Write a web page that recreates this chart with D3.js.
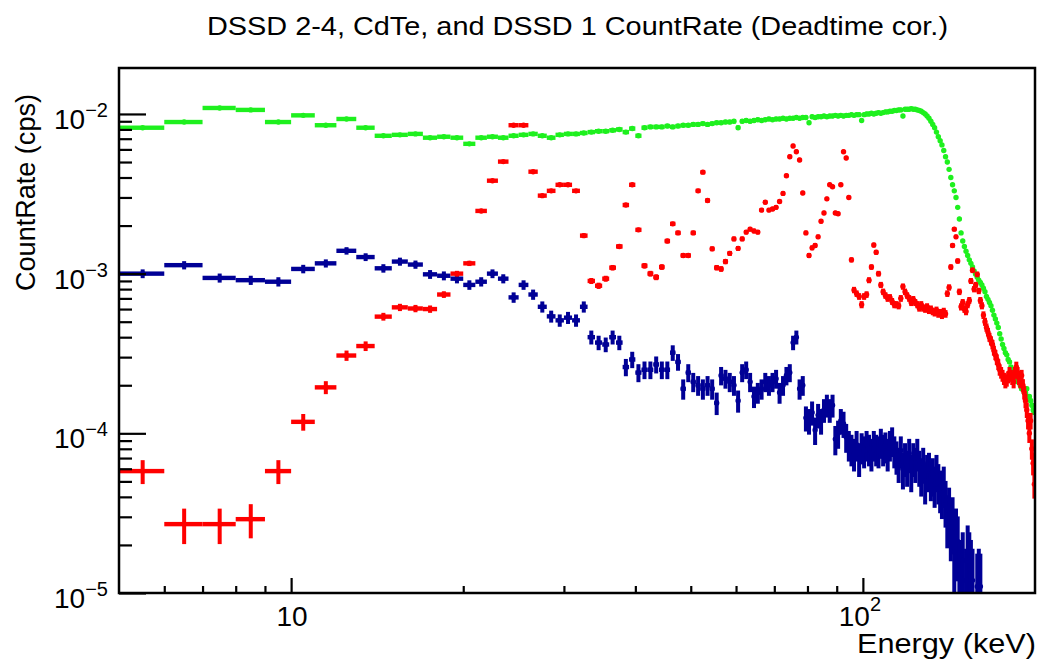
<!DOCTYPE html>
<html>
<head>
<meta charset="utf-8">
<script src="https://cdn.jsdelivr.net/npm/d3@7"></script>
<style>
  html, body { margin: 0; padding: 0; background: #ffffff; }
  svg { display: block; font-family: "Liberation Sans", Arial, Helvetica, sans-serif; }
</style>
</head>
<body>
<svg id="chart" width="1042" height="664"></svg>
<script>
// ---------------- DATA ----------------
// 1 keV bins, low edges 5 .. 199 keV
const binLowEdges = d3.range(5, 200);

// DSSD 2-4 (green)
const greenRate = [
  0.0082,0.0089,0.0109,0.0106,0.0089,0.0098,0.0085,0.0093,0.0082,0.0073,
  0.0074,0.0075,0.0071,0.0072,0.0071,0.0065,0.0071,0.0072,0.0071,0.0073,
  0.0074,0.0075,0.0073,0.0071,0.0074,0.0075,0.0075,0.0076,0.0077,0.0078,
  0.0078,0.0079,0.0080,0.0077,0.0081,0.0073,0.0082,0.0083,0.0083,0.0083,
  0.0084,0.0083,0.0084,0.0085,0.0085,0.0086,0.0086,0.0087,0.0086,0.0087,
  0.0088,0.0088,0.0089,0.0089,0.0090,0.0082,0.0090,0.0091,0.0090,0.0091,
  0.0092,0.0091,0.0092,0.0093,0.0092,0.0093,0.0093,0.0094,0.0093,0.0094,
  0.0094,0.0095,0.0094,0.0095,0.0095,0.0088,0.0096,0.0095,0.0096,0.0096,
  0.0097,0.0096,0.0097,0.0097,0.0098,0.0097,0.0098,0.0097,0.0098,0.0098,
  0.0099,0.0098,0.0099,0.0099,0.0091,0.0099,0.0100,0.0100,0.0101,0.0100,
  0.0101,0.0102,0.0101,0.0102,0.0103,0.0103,0.0104,0.0104,0.0105,0.0105,
  0.0106,0.0106,0.0097,0.0107,0.0107,0.0107,0.0108,0.0107,0.0107,0.0106,
  0.0105,0.0104,0.0102,0.0100,0.0097,0.0094,0.0090,0.0086,0.0082,0.0077,
  0.0072,0.0068,0.0064,0.0059,0.0054,0.0050,0.0045,0.0040,0.0036,0.0033,
  0.0030,0.0026,0.0022,0.0018,0.0016,0.00148,0.00138,0.0013,0.00122,0.00116,
  0.0011,0.00104,0.00099,0.00095,0.00091,0.00088,0.00085,0.00081,0.00077,0.00072,
  0.00069,0.00066,0.00063,0.00059,0.00055,0.00052,0.00049,0.00046,0.00042,0.00039,
  0.00036,0.00034,0.00032,0.00031,0.00029,0.00028,0.00026,0.00025,0.00024,0.00023,
  0.00022,0.00021,0.00021,0.00020,0.00019,0.00019,0.00018,0.00018,0.00019,0.00017,
  0.00017,0.00016,0.00015,0.00014,0.000135
];

// CdTe (red)
const redRate = [
  5.8e-5,2.7e-5,2.7e-5,2.9e-5,5.8e-5,1.18e-4,1.94e-4,3.07e-4,3.52e-4,5.38e-4,
  6.15e-4,6.05e-4,6.0e-4,7.4e-4,1.0e-3,1.16e-3,2.47e-3,3.82e-3,5.03e-3,8.5e-3,
  8.5e-3,4.35e-3,3.08e-3,3.3e-3,3.6e-3,3.6e-3,3.3e-3,1.73e-3,9.0e-4,8.4e-4,
  9.3e-4,1.09e-3,1.48e-3,2.69e-3,3.6e-3,1.88e-3,1.12e-3,1.0e-3,9.5e-4,1.1e-3,
  1.6e-3,2.05e-3,1.8e-3,1.3e-3,1.3e-3,1.8e-3,3.3e-3,4.32e-3,2.87e-3,1.43e-3,
  1.09e-3,1.07e-3,1.19e-3,1.34e-3,1.65e-3,1.44e-3,1.65e-3,1.82e-3,1.9e-3,1.85e-3,
  1.82e-3,2.5e-3,2.8e-3,2.5e-3,2.54e-3,2.6e-3,2.83e-3,3.18e-3,4.1e-3,5.4e-3,
  6.3e-3,5.8e-3,5.15e-3,3.2e-3,1.8e-3,1.3e-3,1.45e-3,1.5e-3,1.7e-3,2.13e-3,
  2.4e-3,2.94e-3,3.6e-3,3.5e-3,2.4e-3,2.37e-3,3.6e-3,5.8e-3,5.3e-3,3.0e-3,
  1.22e-3,7.9e-4,7.5e-4,7.2e-4,6.4e-4,7.2e-4,7.4e-4,9.1e-4,1.1e-3,1.51e-3,
  1.36e-3,1.0e-3,8.5e-4,7.7e-4,7.3e-4,7.0e-4,7.1e-4,6.7e-4,6.4e-4,6.4e-4,
  6.3e-4,7.0e-4,8.3e-4,7.7e-4,7.3e-4,7.0e-4,6.6e-4,6.9e-4,6.6e-4,6.4e-4,
  6.1e-4,6.4e-4,6.1e-4,6.0e-4,6.2e-4,5.9e-4,6.0e-4,5.8e-4,5.7e-4,5.9e-4,
  5.6e-4,5.7e-4,5.5e-4,5.8e-4,5.6e-4,7.5e-4,8.2e-4,1.1e-3,1.5e-3,1.9e-3,
  1.7e-3,1.2e-3,7.7e-4,6.2e-4,6.6e-4,6.0e-4,5.8e-4,6.4e-4,6.8e-4,9.0e-4,
  1.05e-3,8.0e-4,8.5e-4,9.9e-4,7.8e-4,6.8e-4,6.3e-4,5.5e-4,5.0e-4,4.6e-4,
  4.3e-4,4.0e-4,3.8e-4,3.6e-4,3.3e-4,3.1e-4,2.9e-4,2.7e-4,2.5e-4,2.4e-4,
  2.3e-4,2.2e-4,2.1e-4,2.15e-4,2.25e-4,2.4e-4,2.3e-4,2.2e-4,2.1e-4,2.4e-4,
  2.6e-4,2.4e-4,2.2e-4,2.1e-4,2.3e-4,2.0e-4,1.8e-4,1.6e-4,1.4e-4,1.2e-4,
  1.0e-4,1.2e-4,8.0e-5,6.5e-5,4.8e-5
];

// DSSD 1 (blue); null = empty bin
const blueRate = [
  1.0e-3,1.13e-3,9.4e-4,9.1e-4,8.9e-4,1.07e-3,1.16e-3,1.39e-3,1.27e-3,1.08e-3,
  1.19e-3,1.14e-3,9.9e-4,9.7e-4,9.3e-4,8.5e-4,8.9e-4,1.0e-3,9.3e-4,7.1e-4,
  8.5e-4,7.4e-4,6.2e-4,5.4e-4,5.1e-4,5.3e-4,5.1e-4,6.2e-4,4.0e-4,3.7e-4,
  3.6e-4,4.0e-4,3.7e-4,2.6e-4,2.9e-4,2.4e-4,2.5e-4,2.5e-4,2.7e-4,2.5e-4,
  2.5e-4,3.2e-4,2.8e-4,1.9e-4,2.4e-4,2.1e-4,2.0e-4,1.9e-4,2.0e-4,1.9e-4,
  1.55e-4,2.3e-4,2.2e-4,2.1e-4,2.0e-4,1.6e-4,2.4e-4,2.5e-4,2.1e-4,1.7e-4,
  1.8e-4,1.9e-4,2.1e-4,2.0e-4,2.1e-4,2.2e-4,1.8e-4,2.0e-4,2.3e-4,2.4e-4,
  3.7e-4,4.0e-4,1.9e-4,2.0e-4,1.25e-4,1.2e-4,1.35e-4,1.05e-4,1.3e-4,1.2e-4,
  1.4e-4,1.5e-4,1.4e-4,1.5e-4,9.2e-5,1.0e-4,1.2e-4,1.15e-4,9.5e-5,8.5e-5,
  8.0e-5,7.5e-5,8.5e-5,7.0e-5,8.2e-5,7.8e-5,8.5e-5,8.0e-5,7.5e-5,8.5e-5,
  8.0e-5,7.8e-5,8.8e-5,8.0e-5,8.3e-5,7.5e-5,8.5e-5,9.0e-5,7.8e-5,7.2e-5,
  6.5e-5,7.8e-5,6.0e-5,7.0e-5,6.2e-5,7.5e-5,5.8e-5,7.0e-5,6.5e-5,7.5e-5,
  6.2e-5,5.5e-5,6.5e-5,5.0e-5,5.8e-5,6.0e-5,5.2e-5,5.5e-5,4.8e-5,5.8e-5,
  5.0e-5,4.5e-5,4.2e-5,4.8e-5,3.8e-5,3.0e-5,3.4e-5,2.6e-5,2.9e-5,1.8e-5,
  2.4e-5,2.1e-5,1.4e-5,1.3e-5,1.6e-5,null,1.2e-5,1.8e-5,1.6e-5,1.4e-5,
  1.2e-5,null,null,1.1e-5,1.2e-5,1.1e-5,null,null,null,null,
  null,null,null,null,null,null,null,null,null,null,
  null,null,null,null,null,null,null,null,null,null,
  null,null,null,null,null,null,null,null,null,null,
  null,null,null,null,null
];

// error scale per series (rate uncertainty ~ k * sqrt(rate))
const errScale = { green: 0.0004, red: 0.0013, blue: 0.002 };

const xMajorTicks = [10, 100];
const xMinorTicks = [6, 7, 8, 9, 20, 30, 40, 50, 60, 70, 80, 90];
const xTickLabels = [{ v: 10, base: "10", exp: "" }, { v: 100, base: "10", exp: "2" }];
const yMajorTicks = [1e-5, 1e-4, 1e-3, 1e-2];
const yMinorTicks = [2e-5,3e-5,4e-5,5e-5,6e-5,7e-5,8e-5,9e-5,
                     2e-4,3e-4,4e-4,5e-4,6e-4,7e-4,8e-4,9e-4,
                     2e-3,3e-3,4e-3,5e-3,6e-3,7e-3,8e-3,9e-3];
const yTickLabels = [{ v: 1e-5, exp: "\u22125" }, { v: 1e-4, exp: "\u22124" },
                     { v: 1e-3, exp: "\u22123" }, { v: 1e-2, exp: "\u22122" }];

const titleText = "DSSD 2-4, CdTe, and DSSD 1 CountRate (Deadtime cor.)";
const xTitle = "Energy (keV)";
const yTitle = "CountRate (cps)";

// ---------------- LAYOUT ----------------
const L = 119, R = 1035, T = 68, B = 593;
const svg = d3.select("#chart");
svg.append("rect").attr("width", 1042).attr("height", 664).attr("fill", "#fff");

const x = d3.scaleLog().domain([5, 200]).range([L, R]);
const y = d3.scaleLog().domain([1e-5, 0.0194]).range([B, T]);

svg.append("defs").append("clipPath").attr("id", "clip")
  .append("rect").attr("x", L).attr("y", T).attr("width", R - L).attr("height", B - T);

function drawSeries(vals, color, k) {
  const data = vals.map((v, i) => ({ lo: binLowEdges[i], hi: binLowEdges[i] + 1, v }))
                   .filter(d => d.v != null);
  const g = svg.append("g").attr("clip-path", "url(#clip)").attr("fill", color);
  g.selectAll("rect.h").data(data).join("rect").attr("class", "h")
    .attr("x", d => x(d.lo)).attr("width", d => x(d.hi) - x(d.lo))
    .attr("y", d => y(d.v) - 2.2).attr("height", 4.4);
  g.selectAll("rect.v").data(data).join("rect").attr("class", "v")
    .attr("x", d => x(d.lo + 0.5) - 2).attr("width", 4)
    .attr("y", d => y(d.v + k * Math.sqrt(d.v)))
    .attr("height", d => {
      const lo = Math.max(d.v - k * Math.sqrt(d.v), 1e-6);
      return y(lo) - y(d.v + k * Math.sqrt(d.v));
    });
  g.selectAll("circle").data(data).join("circle")
    .attr("cx", d => x(d.lo + 0.5)).attr("cy", d => y(d.v)).attr("r", 2.7);
}

drawSeries(greenRate, "#1ef01e", errScale.green);
drawSeries(blueRate, "#000096", errScale.blue);
drawSeries(redRate, "#ff0000", errScale.red);

// ---------------- AXES ----------------
const axG = svg.append("g");
axG.append("g").attr("transform", `translate(0,${B})`)
  .call(d3.axisBottom(x).tickValues(xMinorTicks).tickSize(-7).tickFormat(""))
  .call(g => g.select(".domain").remove());
axG.append("g").attr("transform", `translate(0,${B})`)
  .call(d3.axisBottom(x).tickValues(xMajorTicks).tickSize(-15).tickFormat(""))
  .call(g => g.select(".domain").remove());
axG.append("g").attr("transform", `translate(${L},0)`)
  .call(d3.axisLeft(y).tickValues(yMinorTicks).tickSize(-13).tickFormat(""))
  .call(g => g.select(".domain").remove());
axG.append("g").attr("transform", `translate(${L},0)`)
  .call(d3.axisLeft(y).tickValues(yMajorTicks).tickSize(-27).tickFormat(""))
  .call(g => g.select(".domain").remove());
axG.selectAll(".tick line").attr("stroke", "#000").attr("stroke-width", 2.2);

svg.append("rect").attr("x", L).attr("y", T).attr("width", R - L).attr("height", B - T)
  .attr("fill", "none").attr("stroke", "#000").attr("stroke-width", 2.5);

// tick labels
yTickLabels.forEach(t => {
  const txt = svg.append("text").attr("x", 108).attr("y", y(t.v) + 15)
    .attr("text-anchor", "end").attr("font-size", 28).attr("fill", "#000");
  txt.append("tspan").text("10");
  txt.append("tspan").attr("dy", -12).attr("font-size", 20).text(t.exp);
});
xTickLabels.forEach(t => {
  const txt = svg.append("text").attr("x", x(t.v) + (t.exp ? -3 : 1)).attr("y", 626)
    .attr("text-anchor", "middle").attr("font-size", 28).attr("fill", "#000");
  txt.append("tspan").text(t.base);
  if (t.exp) txt.append("tspan").attr("dy", -15).attr("font-size", 20).text(t.exp);
});

// titles
svg.append("text").attr("x", 207).attr("y", 35).attr("font-size", 26)
  .attr("textLength", 741).attr("lengthAdjust", "spacingAndGlyphs").text(titleText);
svg.append("text").attr("x", 1036).attr("y", 653).attr("text-anchor", "end")
  .attr("font-size", 28).attr("textLength", 179).attr("lengthAdjust", "spacingAndGlyphs")
  .text(xTitle);
svg.append("text").attr("transform", "translate(35,94) rotate(-90)")
  .attr("text-anchor", "end").attr("font-size", 27.5)
  .attr("textLength", 197).attr("lengthAdjust", "spacingAndGlyphs").text(yTitle);
</script>
</body>
</html>
